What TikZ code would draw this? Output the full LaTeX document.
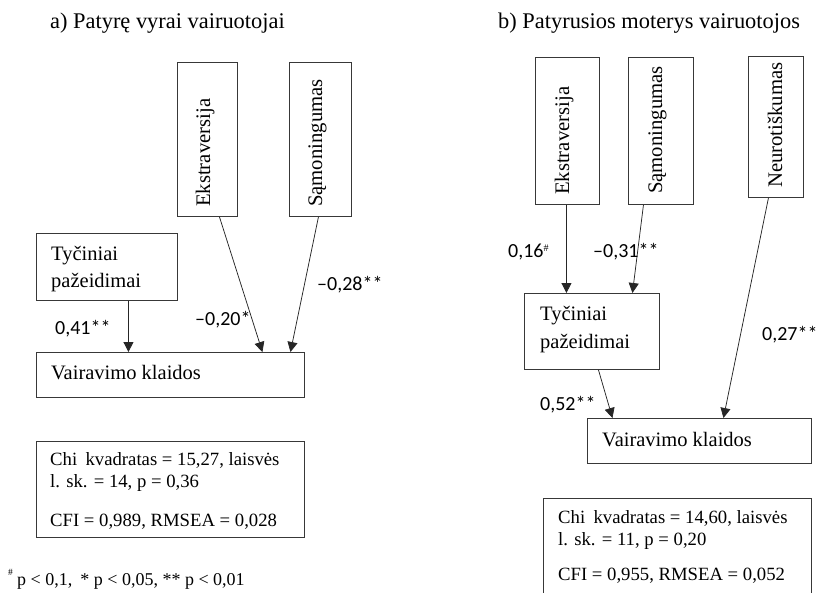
\documentclass[tikz,border=0pt]{standalone}
\usepackage{fontspec}
\setmainfont{Liberation Serif}
\newfontfamily\lblfont{Carlito}
\usetikzlibrary{arrows.meta}
\begin{document}
\begin{tikzpicture}[x=1pt,y=-1pt,
 box/.style={draw=black!78,line width=0.9pt,inner sep=0pt,anchor=north west},
 arr/.style={draw=black!85,line width=0.75pt,-{Triangle[length=10pt,width=10pt]}},
 btxt/.style={anchor=base west,inner sep=0pt,font=\fontsize{20.5}{24}\selectfont},
 vtxt/.style={anchor=base west,inner sep=0pt,rotate=90,font=\fontsize{20.7}{24}\selectfont},
 ctxt/.style={anchor=base west,inner sep=0pt,font=\fontsize{18.7}{22}\selectfont},
 lbl/.style={anchor=base west,inner sep=0pt,font=\lblfont\fontsize{20}{24}\selectfont},
 ttl/.style={anchor=base west,inner sep=0pt,font=\fontsize{22.4}{26}\selectfont}]
\useasboundingbox (0,0) rectangle (818,592);
\begin{scope}
\clip (0,0) rectangle (818,592);
% ---------- panel a ----------
\node[ttl] (tA) at (50,28) {a) Patyrę vyrai vairuotojai};
\node[box,minimum width=60pt,minimum height=154pt] (ekA) at (177,62) {};
\node[box,minimum width=62pt,minimum height=154pt] (smA) at (289,62) {};
\node[vtxt] (ekAt) at (210,207) {Ekstraversija};
\node[vtxt] (smAt) at (322,207) {Sąmoningumas};
\node[box,minimum width=141pt,minimum height=67pt] (tyA) at (36,233) {};
\node[btxt] (tyAt1) at (51,260) {Tyčiniai};
\node[btxt] (tyAt2) at (51,287) {pažeidimai};
\node[box,minimum width=268pt,minimum height=45pt] (vkA) at (36,352) {};
\node[btxt] (vkAt) at (51,379) {Vairavimo klaidos};
\node[box,minimum width=268pt,minimum height=96pt] (chiA) at (36,441) {};
\node[ctxt] (chiA1) at (50,465) {Chi\hspace{0.45em}kvadratas = 15,27, laisvės};
\node[ctxt] (chiA2) at (50,487) {l. sk. = 14, p = 0,36};
\node[ctxt] (chiA3) at (50,526) {CFI = 0,989, RMSEA = 0,028};
\draw[arr] ([xshift=21.5pt]tyA.south) -- ([xshift=-42pt]vkA.north);
\draw[arr] ([xshift=12pt]ekA.south) -- ([xshift=92pt]vkA.north);
\draw[arr] ([xshift=-2pt]smA.south) -- ([xshift=120pt]vkA.north);
\node[lbl] (lA1) at (55,334) {0,41**};
\node[lbl] (lA2) at (195,325) {–0,20*};
\node[lbl] (lA3) at (317,290) {–0,28**};
\node[anchor=base west,inner sep=0pt,font=\fontsize{9.5}{10}\selectfont] (fnh) at (8,575) {\#};
\node[anchor=base west,inner sep=0pt,font=\fontsize{18}{22}\selectfont] (fn) at (17,585) {p < 0,1,\hspace{0.45em}* p < 0,05, ** p < 0,01};
% ---------- panel b ----------
\node[ttl] (tB) at (498,28) {b) Patyrusios moterys vairuotojos};
\node[box,minimum width=64pt,minimum height=147pt] (ekB) at (535,57) {};
\node[box,minimum width=65pt,minimum height=147pt] (smB) at (628,57) {};
\node[box,minimum width=55pt,minimum height=141pt] (neB) at (748,56) {};
\node[vtxt] (ekBt) at (569,195) {Ekstraversija};
\node[vtxt] (smBt) at (662,194) {Sąmoningumas};
\node[vtxt] (neBt) at (782,188) {Neurotiškumas};
\node[box,minimum width=135pt,minimum height=76pt] (tyB) at (524,293) {};
\node[btxt] (tyBt1) at (540,320) {Tyčiniai};
\node[btxt] (tyBt2) at (540,348) {pažeidimai};
\node[box,minimum width=224pt,minimum height=45pt] (vkB) at (587,418) {};
\node[btxt] (vkBt) at (602,446) {Vairavimo klaidos};
\node[box,minimum width=268pt,minimum height=110pt] (chiB) at (543,498) {};
\node[ctxt] (chiB1) at (558,523) {Chi\hspace{0.45em}kvadratas = 14,60, laisvės};
\node[ctxt] (chiB2) at (558,545) {l. sk. = 11, p = 0,20};
\node[ctxt] (chiB3) at (558,580) {CFI = 0,955, RMSEA = 0,052};
\draw[arr] ([xshift=-1pt]ekB.south) -- ([xshift=-25.5pt]tyB.north);
\draw[arr] ([xshift=-17.5pt]smB.south) -- ([xshift=40.5pt]tyB.north);
\draw[arr] ([xshift=-7.5pt]neB.south) -- ([xshift=24pt]vkB.north);
\draw[arr] ([xshift=6.5pt]tyB.south) -- ([xshift=-87pt]vkB.north);
\node[lbl] (lB1) at (508,257) {0,16\raisebox{6pt}{\rmfamily\fontsize{10}{10}\selectfont\#}};
\node[lbl] (lB2) at (593,257) {–0,31**};
\node[lbl] (lB3) at (762,340) {0,27**};
\node[lbl] (lB4) at (540,410) {0,52**};
\end{scope}
\end{tikzpicture}
\end{document}
